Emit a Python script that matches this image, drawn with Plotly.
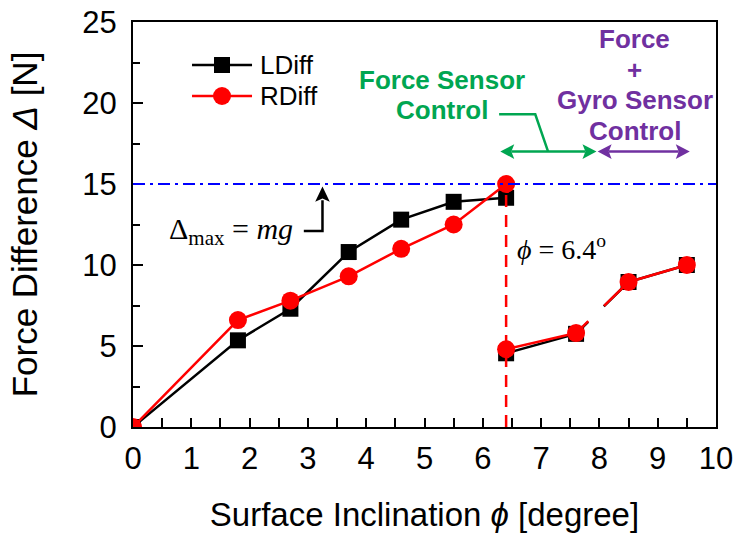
import plotly.graph_objects as go

# ---------------- data ----------------
x_upper = [0, 1.8, 2.7, 3.7, 4.6, 5.5, 6.4]
ldiff_upper = [0, 5.35, 7.3, 10.8, 12.8, 13.9, 14.15]
rdiff_upper = [0, 6.6, 7.8, 9.3, 11.0, 12.5, 15.0]

x_lower = [6.4, 7.6, 8.5, 9.5]
ldiff_lower = [4.55, 5.75, 8.95, 10.0]
rdiff_lower = [4.8, 5.8, 8.95, 10.0]

delta_max = 15          # Δmax = mg
phi_switch = 6.4        # switching inclination
x_ticks = list(range(0, 11))
y_ticks = [0, 5, 10, 15, 20, 25]
series_names = ["LDiff", "RDiff"]

SANS = "Liberation Sans, Arial, sans-serif"
SERIF = "Liberation Serif, Times New Roman, serif"
GREEN = "#00A651"
PURPLE = "#7030A0"

fig = go.Figure()


def add_series(name, color, symbol, size, y_up, y_low):
    # upper branch
    fig.add_trace(go.Scatter(
        x=x_upper, y=y_up, mode="lines+markers", name=name, legendgroup=name,
        line=dict(color=color, width=2.5),
        marker=dict(symbol=symbol, size=size, color=color),
    ))
    # lower branch: solid pieces with a broken link between 2nd and 3rd point
    fig.add_trace(go.Scatter(
        x=x_lower[:2] + [None] + x_lower[2:], y=y_low[:2] + [None] + y_low[2:],
        mode="lines", showlegend=False, legendgroup=name,
        line=dict(color=color, width=2.5),
    ))
    fig.add_trace(go.Scatter(
        x=x_lower[1:3], y=y_low[1:3], mode="lines", showlegend=False,
        legendgroup=name, line=dict(color=color, width=2.5, dash="17px,22px,60px"),
    ))
    fig.add_trace(go.Scatter(
        x=x_lower, y=y_low, mode="markers", showlegend=False, legendgroup=name,
        marker=dict(symbol=symbol, size=size, color=color),
    ))


add_series(series_names[0], "black", "square", 16, ldiff_upper, ldiff_lower)

# vertical dashed line at the switching inclination
fig.add_trace(go.Scatter(
    x=[phi_switch, phi_switch], y=[0, delta_max], mode="lines", showlegend=False,
    line=dict(color="red", width=2.5, dash="12px,8px"), hoverinfo="skip",
))

add_series(series_names[1], "red", "circle", 18, rdiff_upper, rdiff_lower)

# ---------- legend (drawn box-less, like the reference) ----------
leg_x = 0.1527
leg_text_x = 0.2144
leg_rows = [(series_names[0], "black", "rect", 0.8938, 8),
            (series_names[1], "red", "circle", 0.8173, 9)]
for name, color, shp, ly, half in leg_rows:
    fig.add_shape(type="line", xref="paper", yref="paper", xsizemode="pixel", ysizemode="pixel",
                  xanchor=leg_x, yanchor=ly, x0=-30, x1=30, y0=0, y1=0,
                  line=dict(color=color, width=2.5))
    fig.add_shape(type=shp, xref="paper", yref="paper", xsizemode="pixel", ysizemode="pixel",
                  xanchor=leg_x, yanchor=ly, x0=-half, x1=half, y0=-half, y1=half,
                  line=dict(color=color, width=0), fillcolor=color)
    fig.add_annotation(x=leg_text_x, y=ly, xref="paper", yref="paper", xanchor="left",
                       yanchor="middle", showarrow=False, text=name,
                       font=dict(family=SANS, size=26, color="black"))

# horizontal Δmax line
fig.add_shape(type="line", xref="paper", x0=0, x1=1, yref="y", y0=delta_max, y1=delta_max,
              line=dict(color="blue", width=2, dash="12px,5px,3px,5px"), layer="above")


def hline_arrow(x0, x1, y, color):
    """horizontal double-headed arrow drawn with shapes (data coords)"""
    hl, hw, notch = 0.24, 0.45, 0.05
    fig.add_shape(type="line", xref="x", yref="y", x0=x0 + hl - notch, x1=x1 - hl + notch,
                  y0=y, y1=y, line=dict(color=color, width=2.5))
    for tip, d in [(x0, 1), (x1, -1)]:
        fig.add_shape(type="path", xref="x", yref="y",
                      path=(f"M {tip} {y} L {tip + d * hl} {y + hw} "
                            f"L {tip + d * (hl - notch)} {y} L {tip + d * hl} {y - hw} Z"),
                      line=dict(color=color, width=0), fillcolor=color)


# Δmax = mg label and bracket arrow
fig.add_annotation(x=1.68, y=12.1, xref="x", yref="y", showarrow=False,
                   text="Δ<sub>max</sub> = <i>mg</i>",
                   font=dict(family=SERIF, size=30, color="black"))
fig.add_shape(type="path", xref="x", yref="y",
              path="M 2.93 12.1 L 3.25 12.1 L 3.25 14.0",
              line=dict(color="black", width=2.5))
fig.add_shape(type="path", xref="x", yref="y",
              path="M 3.25 14.85 L 3.125 13.9 L 3.25 14.1 L 3.375 13.9 Z",
              line=dict(color="black", width=0), fillcolor="black")

# φ = 6.4° label
fig.add_annotation(x=6.56, y=11.1, xref="x", yref="y", xanchor="left", showarrow=False,
                   text="<i>ϕ</i> = 6.4<sup>o</sup>",
                   font=dict(family=SERIF, size=28, color="black"))

# control region arrows
hline_arrow(6.3, 7.95, 17, GREEN)
hline_arrow(7.97, 9.55, 17, PURPLE)
fig.add_shape(type="path", xref="x", yref="y",
              path="M 6.28 19.3 L 6.9 19.3 L 7.12 17",
              line=dict(color=GREEN, width=2.5))

for txt, ty in [("Force Sensor", 21.42), ("Control", 19.57)]:
    fig.add_annotation(x=5.3, y=ty, xref="x", yref="y", showarrow=False,
                       text=f"<b>{txt}</b>", font=dict(family=SANS, size=26, color=GREEN))
for txt, ty in [("Force", 23.95), ("+", 22.04), ("Gyro Sensor", 20.19), ("Control", 18.27)]:
    fig.add_annotation(x=8.61, y=ty, xref="x", yref="y", showarrow=False,
                       text=f"<b>{txt}</b>", font=dict(family=SANS, size=26, color=PURPLE))

axis_common = dict(
    showline=True, linecolor="black", linewidth=2, mirror=True,
    ticks="inside", tickcolor="black", tickwidth=1.8,
    showgrid=False, zeroline=False, automargin=False,
    tickfont=dict(family=SANS, size=31, color="black"),
)

fig.update_xaxes(range=[0, 10], tickvals=x_ticks, ticklen=9,
                 minor=dict(dtick=0.5, ticks="inside", ticklen=9, tickwidth=1.8, tickcolor="black"),
                 title=dict(text="Surface Inclination <i>ϕ</i> [degree]",
                            font=dict(family=SANS, size=33, color="black"), standoff=28),
                 ticklabelstandoff=3,
                 **axis_common)
fig.update_yaxes(range=[0, 25], tickvals=y_ticks, ticklen=10,
                 minor=dict(dtick=2.5, ticks="inside", ticklen=7, tickwidth=1.8, tickcolor="black"),
                 title=dict(text="Force Difference <i>Δ</i> [N]",
                            font=dict(family=SANS, size=35, color="black"), standoff=34),
                 ticklabelstandoff=8,
                 **axis_common)

fig.update_layout(
    width=736, height=539,
    margin=dict(l=133, r=20, t=22, b=112, pad=0),
    paper_bgcolor="white", plot_bgcolor="white",
    showlegend=False,
)

fig.write_html("out.html")
